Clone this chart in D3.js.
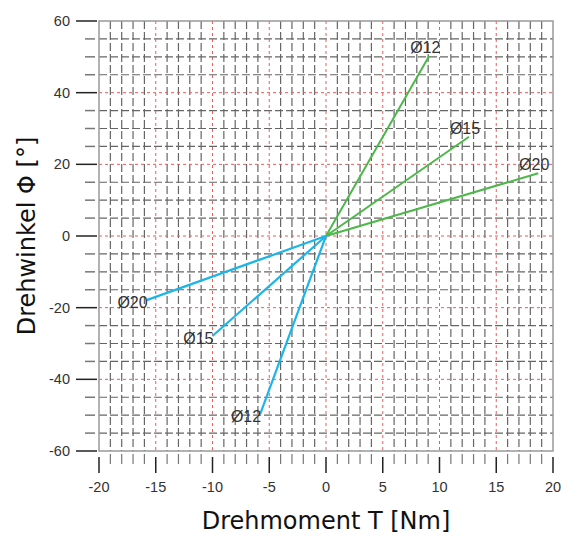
<!DOCTYPE html>
<html>
<head>
<meta charset="utf-8">
<script src="https://cdn.jsdelivr.net/npm/d3@7"></script>
<style>
  body { margin: 0; background: #fff; }
  text { font-family: "Liberation Sans", Arial, sans-serif; }
</style>
</head>
<body>
<div class="chart"></div>
<script>
// series: end points of each line, all start at origin
var labels = ["Ø12", "Ø15", "Ø20"];
var posT = [9.1, 12.6, 18.7];
var posPhi = [50.3, 27.7, 17.5];
var negT = [-5.8, -10.0, -15.8];
var negPhi = [-49.7, -27.9, -17.9];

var xTicks = [-20, -15, -10, -5, 0, 5, 10, 15, 20];
var yTicks = [-60, -40, -20, 0, 20, 40, 60];

var width = 561, height = 535;
var margin = {top: 21, right: 8, bottom: 84, left: 99};

var svg = d3.select(".chart").append("svg")
    .attr("width", width)
    .attr("height", height);

var x = d3.scaleLinear().domain([-20, 20]).range([margin.left, width - margin.right]);
var y = d3.scaleLinear().domain([-60, 60]).range([height - margin.bottom, margin.top]);

var minorX = d3.range(-20, 21, 1);
var minorY = d3.range(-60, 61, 5);

// grey dashed minor grid
var grid = svg.append("g");
grid.selectAll(".gx").data(minorX.filter(d => d % 5 != 0))
  .enter().append("line")
    .attr("x1", d => x(d)).attr("x2", d => x(d))
    .attr("y1", y(60)).attr("y2", y(-60))
    .attr("stroke", "#666").attr("stroke-width", 1.2)
    .attr("stroke-dasharray", "8,3");
grid.selectAll(".gy").data(minorY.filter(d => d % 20 != 0))
  .enter().append("line")
    .attr("y1", d => y(d)).attr("y2", d => y(d))
    .attr("x1", x(-20)).attr("x2", x(20))
    .attr("stroke", "#666").attr("stroke-width", 1.2)
    .attr("stroke-dasharray", "8,3");

// red dotted major grid
grid.selectAll(".rx").data(xTicks.filter(d => d > -20 && d < 20))
  .enter().append("line")
    .attr("x1", d => x(d)).attr("x2", d => x(d))
    .attr("y1", y(60)).attr("y2", y(-60))
    .attr("stroke", "#f05a5a").attr("stroke-width", 1)
    .attr("stroke-dasharray", "3,3");
grid.selectAll(".ry").data(yTicks.filter(d => d > -60 && d < 60))
  .enter().append("line")
    .attr("y1", d => y(d)).attr("y2", d => y(d))
    .attr("x1", x(-20)).attr("x2", x(20))
    .attr("stroke", "#f05a5a").attr("stroke-width", 1)
    .attr("stroke-dasharray", "3,3");

// frame
svg.append("rect")
    .attr("x", x(-20)).attr("y", y(60))
    .attr("width", x(20) - x(-20)).attr("height", y(-60) - y(60))
    .attr("fill", "none").attr("stroke", "#999").attr("stroke-width", 1.5);

// y axis ticks
svg.selectAll(".ymin").data(minorY.filter(d => d % 20 != 0))
  .enter().append("line")
    .attr("x1", 85).attr("x2", 95)
    .attr("y1", d => y(d)).attr("y2", d => y(d))
    .attr("stroke", "#777").attr("stroke-width", 1.5);
svg.selectAll(".ymaj").data(yTicks)
  .enter().append("line")
    .attr("x1", 76).attr("x2", 97)
    .attr("y1", d => y(d)).attr("y2", d => y(d))
    .attr("stroke", "#222").attr("stroke-width", 1.5);
svg.selectAll(".ylab").data(yTicks)
  .enter().append("text")
    .attr("x", 70).attr("y", d => y(d))
    .attr("dy", "0.35em")
    .attr("text-anchor", "end")
    .attr("font-size", 14.5)
    .attr("fill", "#333")
    .text(d => d);

// x axis ticks
var base = y(-60);
svg.selectAll(".xmin").data(minorX.filter(d => d % 5 != 0))
  .enter().append("line")
    .attr("x1", d => x(d)).attr("x2", d => x(d))
    .attr("y1", base + 3).attr("y2", base + 13)
    .attr("stroke", "#777").attr("stroke-width", 1.2);
svg.selectAll(".xmaj").data(xTicks)
  .enter().append("line")
    .attr("x1", d => x(d)).attr("x2", d => x(d))
    .attr("y1", base + 6).attr("y2", base + 22)
    .attr("stroke", "#222").attr("stroke-width", 1.5);
svg.selectAll(".xlab").data(xTicks)
  .enter().append("text")
    .attr("x", d => x(d)).attr("y", base + 41)
    .attr("text-anchor", "middle")
    .attr("font-size", 14.5)
    .attr("fill", "#333")
    .text(d => d);

// axis titles
svg.append("text")
    .attr("x", x(0)).attr("y", 529)
    .attr("text-anchor", "middle")
    .attr("font-size", 24)
    .style("font-family", "'DejaVu Sans', sans-serif")
    .attr("fill", "#111")
    .text("Drehmoment T [Nm]");
svg.append("text")
    .attr("transform", "translate(35," + y(0) + ") rotate(-90)")
    .attr("text-anchor", "middle")
    .attr("font-size", 24)
    .style("font-family", "'DejaVu Sans', sans-serif")
    .attr("fill", "#111")
    .text("Drehwinkel Φ [°]");

// lines
var pos = labels.map((l, i) => ({label: l, t: posT[i], phi: posPhi[i]}));
var neg = labels.map((l, i) => ({label: l, t: negT[i], phi: negPhi[i]}));

svg.selectAll(".pl").data(pos).enter().append("line")
    .attr("x1", x(0)).attr("y1", y(0))
    .attr("x2", d => x(d.t)).attr("y2", d => y(d.phi))
    .attr("stroke", "#4cb849").attr("stroke-width", 2);
svg.selectAll(".nl").data(neg).enter().append("line")
    .attr("x1", x(0)).attr("y1", y(0))
    .attr("x2", d => x(d.t)).attr("y2", d => y(d.phi))
    .attr("stroke", "#1cb5e8").attr("stroke-width", 2.2);

// labels
svg.selectAll(".plab").data(pos).enter().append("text")
    .attr("x", d => x(d.t) - 4).attr("y", d => y(d.phi) - 3)
    .attr("text-anchor", "middle")
    .attr("font-size", 16)
    .attr("fill", "#333")
    .text(d => d.label);
svg.selectAll(".nlab").data(neg).enter().append("text")
    .attr("x", d => x(d.t) + 1).attr("y", d => y(d.phi) + 8)
    .attr("text-anchor", "end")
    .attr("font-size", 16)
    .attr("fill", "#333")
    .text(d => d.label);
</script>
</body>
</html>
